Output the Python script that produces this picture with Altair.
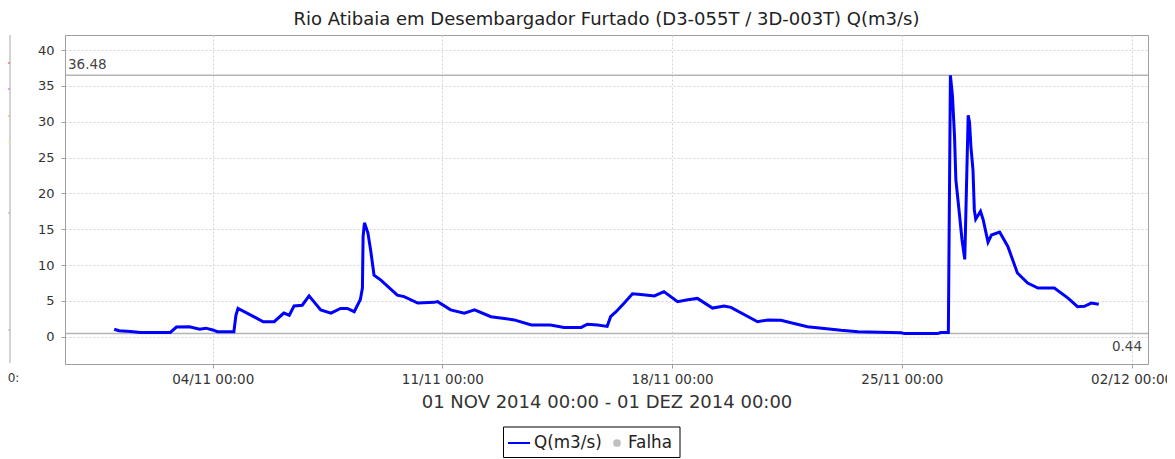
import altair as alt
import pandas as pd

# ---------------- data ----------------
times = [
    "2014-11-01T00:00", "2014-11-01T03:30", "2014-11-01T12:00", "2014-11-01T19:00",
    "2014-11-02T17:00", "2014-11-02T21:30", "2014-11-03T07:00", "2014-11-03T14:30",
    "2014-11-03T19:00", "2014-11-04T00:00", "2014-11-04T03:30", "2014-11-04T15:30",
    "2014-11-04T17:00", "2014-11-04T18:30", "2014-11-05T06:00", "2014-11-05T13:00",
    "2014-11-05T21:00", "2014-11-06T04:00", "2014-11-06T08:00", "2014-11-06T11:30",
    "2014-11-06T17:30", "2014-11-06T22:30", "2014-11-07T07:00", "2014-11-07T14:30",
    "2014-11-07T21:30", "2014-11-08T02:30", "2014-11-08T07:30", "2014-11-08T12:00",
    "2014-11-08T13:30", "2014-11-08T14:00", "2014-11-08T15:00", "2014-11-08T17:30",
    "2014-11-08T19:30", "2014-11-08T22:00", "2014-11-09T03:00", "2014-11-09T15:00",
    "2014-11-09T20:00", "2014-11-10T06:00", "2014-11-10T18:00", "2014-11-10T20:30",
    "2014-11-11T06:00", "2014-11-11T16:00", "2014-11-11T23:30", "2014-11-12T11:30",
    "2014-11-13T04:30", "2014-11-13T17:00", "2014-11-14T07:00", "2014-11-14T17:00",
    "2014-11-15T05:30", "2014-11-15T10:00", "2014-11-15T17:30", "2014-11-16T00:30",
    "2014-11-16T03:00", "2014-11-16T07:00", "2014-11-16T13:00", "2014-11-16T19:00",
    "2014-11-17T01:00", "2014-11-17T11:00", "2014-11-17T18:00", "2014-11-18T04:00",
    "2014-11-18T11:30", "2014-11-18T18:30", "2014-11-19T05:30", "2014-11-19T14:00",
    "2014-11-19T19:00", "2014-11-20T14:30", "2014-11-20T22:00", "2014-11-21T07:30",
    "2014-11-22T03:00", "2014-11-23T03:30", "2014-11-23T16:00", "2014-11-24T23:30",
    "2014-11-25T02:00", "2014-11-26T02:00", "2014-11-26T04:30", "2014-11-26T10:00",
    "2014-11-26T11:30", "2014-11-26T13:00", "2014-11-26T14:30", "2014-11-26T15:30",
    "2014-11-26T18:00", "2014-11-26T20:00", "2014-11-26T22:00", "2014-11-27T00:30",
    "2014-11-27T01:30", "2014-11-27T02:30", "2014-11-27T04:00", "2014-11-27T05:00",
    "2014-11-27T06:00", "2014-11-27T09:30", "2014-11-27T11:30", "2014-11-27T15:00",
    "2014-11-27T17:30", "2014-11-27T23:30", "2014-11-28T05:30", "2014-11-28T12:30",
    "2014-11-28T20:00", "2014-11-29T03:30", "2014-11-29T15:30", "2014-11-30T01:30",
    "2014-11-30T08:30", "2014-11-30T13:30", "2014-11-30T18:30", "2014-12-01T00:00",
]
flow = [
    1.05, 0.85, 0.75, 0.60,
    0.60, 1.35, 1.40, 1.05,
    1.20, 0.95, 0.70, 0.70,
    3.00, 3.95, 2.80, 2.10,
    2.10, 3.30, 3.00, 4.30,
    4.40, 5.70, 3.75, 3.30,
    3.95, 3.95, 3.50, 5.20,
    6.80, 14.0, 15.9, 14.5,
    12.1, 8.60, 7.90, 5.80,
    5.60, 4.70, 4.80, 4.90,
    3.75, 3.30, 3.75, 2.80,
    2.35, 1.65, 1.65, 1.30,
    1.30, 1.75, 1.65, 1.45,
    2.80, 3.50, 4.70, 6.00,
    5.90, 5.70, 6.30, 4.90,
    5.15, 5.35, 4.00, 4.30,
    4.10, 2.10, 2.35, 2.30,
    1.40, 0.90, 0.70, 0.55,
    0.44, 0.44, 0.60, 0.60,
    36.48, 33.6, 28.0, 21.9,
    17.3, 13.5, 10.8, 30.9,
    29.9, 26.5, 23.3, 17.7,
    16.4, 17.5, 16.3, 13.2,
    14.2, 14.6, 12.6, 8.90,
    7.50, 6.80, 6.80, 5.40,
    4.20, 4.25, 4.70, 4.55,
]

ref_values = [36.48, 0.44]
ref_labels = ["36.48", "0.44"]

x_ticks = ["2014-11-04", "2014-11-11", "2014-11-18", "2014-11-25", "2014-12-02"]
x_domain = ["2014-10-30T12", "2014-12-02T12"]
y_ticks = [0, 5, 10, 15, 20, 25, 30, 35, 40]
y_domain = [-3.8, 42.1]

title_text = "Rio Atibaia em Desembargador Furtado (D3-055T / 3D-003T) Q(m3/s)"
x_title = "01 NOV 2014 00:00 - 01 DEZ 2014 00:00"
legend_labels = ["Q(m3/s)", "Falha"]
fragment_tick_label = "00:0"

FONT = "DejaVu Sans"
W, H = 1083, 329


def to_dt(s):
    d, *h = s.split("T")
    y, m, dd = (int(p) for p in d.split("-"))
    return alt.DateTime(year=y, month=m, date=dd, hours=int(h[0]) if h else 0)


df = pd.DataFrame({"T": times, "Q": flow})
ref_df = pd.DataFrame({"v": ref_values, "label": ref_labels})
one = pd.DataFrame({"a": [0]})

xscale = alt.Scale(domain=[to_dt(s) for s in x_domain])
yscale = alt.Scale(domain=y_domain, nice=False, zero=False)

xaxis = alt.Axis(
    values=[to_dt(s) for s in x_ticks], format="%d/%m %H:%M",
    labelFontSize=13.5, tickSize=4, labelPadding=4,
    titleFontSize=18, titleFontWeight="normal", titlePadding=8,
    grid=True,
)
yaxis = alt.Axis(values=y_ticks, labelFontSize=13, tickSize=4, labelPadding=7, grid=True)

line = alt.Chart(df).mark_line(color="#0000ff", strokeWidth=3).encode(
    x=alt.X("T:T", scale=xscale, axis=xaxis, title=x_title),
    y=alt.Y("Q:Q", scale=yscale, axis=yaxis, title=None),
)

refs = alt.Chart(ref_df).mark_rule(color="#b4b4b4", strokeWidth=1.5).encode(
    y=alt.Y("v:Q", title=None)
)

ref_top = alt.Chart(ref_df.iloc[[0]]).mark_text(
    align="left", baseline="bottom", dy=-3, fontSize=13.5, color="#444", font=FONT
).encode(x=alt.value(3), y=alt.Y("v:Q", title=None), text="label:N")

ref_bot = alt.Chart(ref_df.iloc[[1]]).mark_text(
    align="right", baseline="top", dy=6, fontSize=13.5, color="#444", font=FONT
).encode(x=alt.value(1077), y=alt.Y("v:Q", title=None), text="label:N")

# legend drawn as a boxed row below the axis title
leg_box = alt.Chart(one).mark_rect(fill="white", stroke="#000000", strokeWidth=1).encode(
    x=alt.value(438.5), x2=alt.value(615), y=alt.value(392), y2=alt.value(422.5)
)
leg_line = alt.Chart(one).mark_rule(color="#0000ff", strokeWidth=2).encode(
    x=alt.value(443), x2=alt.value(465), y=alt.value(408)
)
leg_t1 = alt.Chart(one).mark_text(
    align="left", baseline="middle", fontSize=16.8, color="#222", font=FONT
).encode(x=alt.value(469), y=alt.value(408), text=alt.value(legend_labels[0]))
leg_dot = alt.Chart(one).mark_circle(color="#c0c0c0", size=60, opacity=1).encode(
    x=alt.value(552), y=alt.value(408)
)
leg_t2 = alt.Chart(one).mark_text(
    align="left", baseline="middle", fontSize=16.8, color="#222", font=FONT
).encode(x=alt.value(563), y=alt.value(408), text=alt.value(legend_labels[1]))

# fragment of the neighbouring chart at the far left edge
frag_v = alt.Chart(one).mark_rule(color="#a8a8a8", strokeWidth=1).encode(
    x=alt.value(-55), y=alt.value(0), y2=alt.value(328)
)
frag_cols = ["#ff7070", "#ff70ff", "#ffb870", "#ffe890"]
frag_ys = [28, 54, 81, 107]
frag_lines = [
    alt.Chart(one).mark_rule(color=c, strokeWidth=1.5).encode(
        x=alt.value(-65), x2=alt.value(-55), y=alt.value(yy)
    )
    for c, yy in zip(frag_cols, frag_ys)
]
frag_h = [
    alt.Chart(one).mark_rule(color="#b0b0b0", strokeWidth=1).encode(
        x=alt.value(-65), x2=alt.value(-55), y=alt.value(yy)
    )
    for yy in [178, 295]
]
frag_txt = alt.Chart(one).mark_text(
    align="left", baseline="middle", fontSize=12, color="#333", font=FONT
).encode(x=alt.value(-65), y=alt.value(343), text=alt.value(fragment_tick_label))
frag_mask = alt.Chart(one).mark_rect(fill="white", strokeWidth=0).encode(
    x=alt.value(-46), x2=alt.value(-36), y=alt.value(333), y2=alt.value(355)
)

chart = alt.layer(
    refs, line, ref_top, ref_bot,
    leg_box, leg_line, leg_t1, leg_dot, leg_t2,
    frag_v, *frag_lines, *frag_h, frag_txt, frag_mask,
).properties(
    width=W, height=H,
    autosize=alt.AutoSizeParams(type="none"),
    padding={"left": 57, "top": 27, "right": 19, "bottom": 95},
    title=alt.TitleParams(title_text, offset=6, anchor="middle"),
    background="white",
).configure_view(
    stroke="#a0a0a0", strokeWidth=1
).configure_axis(
    domainColor="#a0a0a0", tickColor="#a0a0a0",
    gridColor="#d4d4d4", gridDash=[2, 2], gridWidth=1,
    labelFont=FONT, labelColor="#333", titleFont=FONT, titleColor="#333",
).configure_title(
    font=FONT, fontSize=18, fontWeight="normal", color="#222"
)

chart.save("out.html", embed_options={"renderer": "svg", "actions": False})
